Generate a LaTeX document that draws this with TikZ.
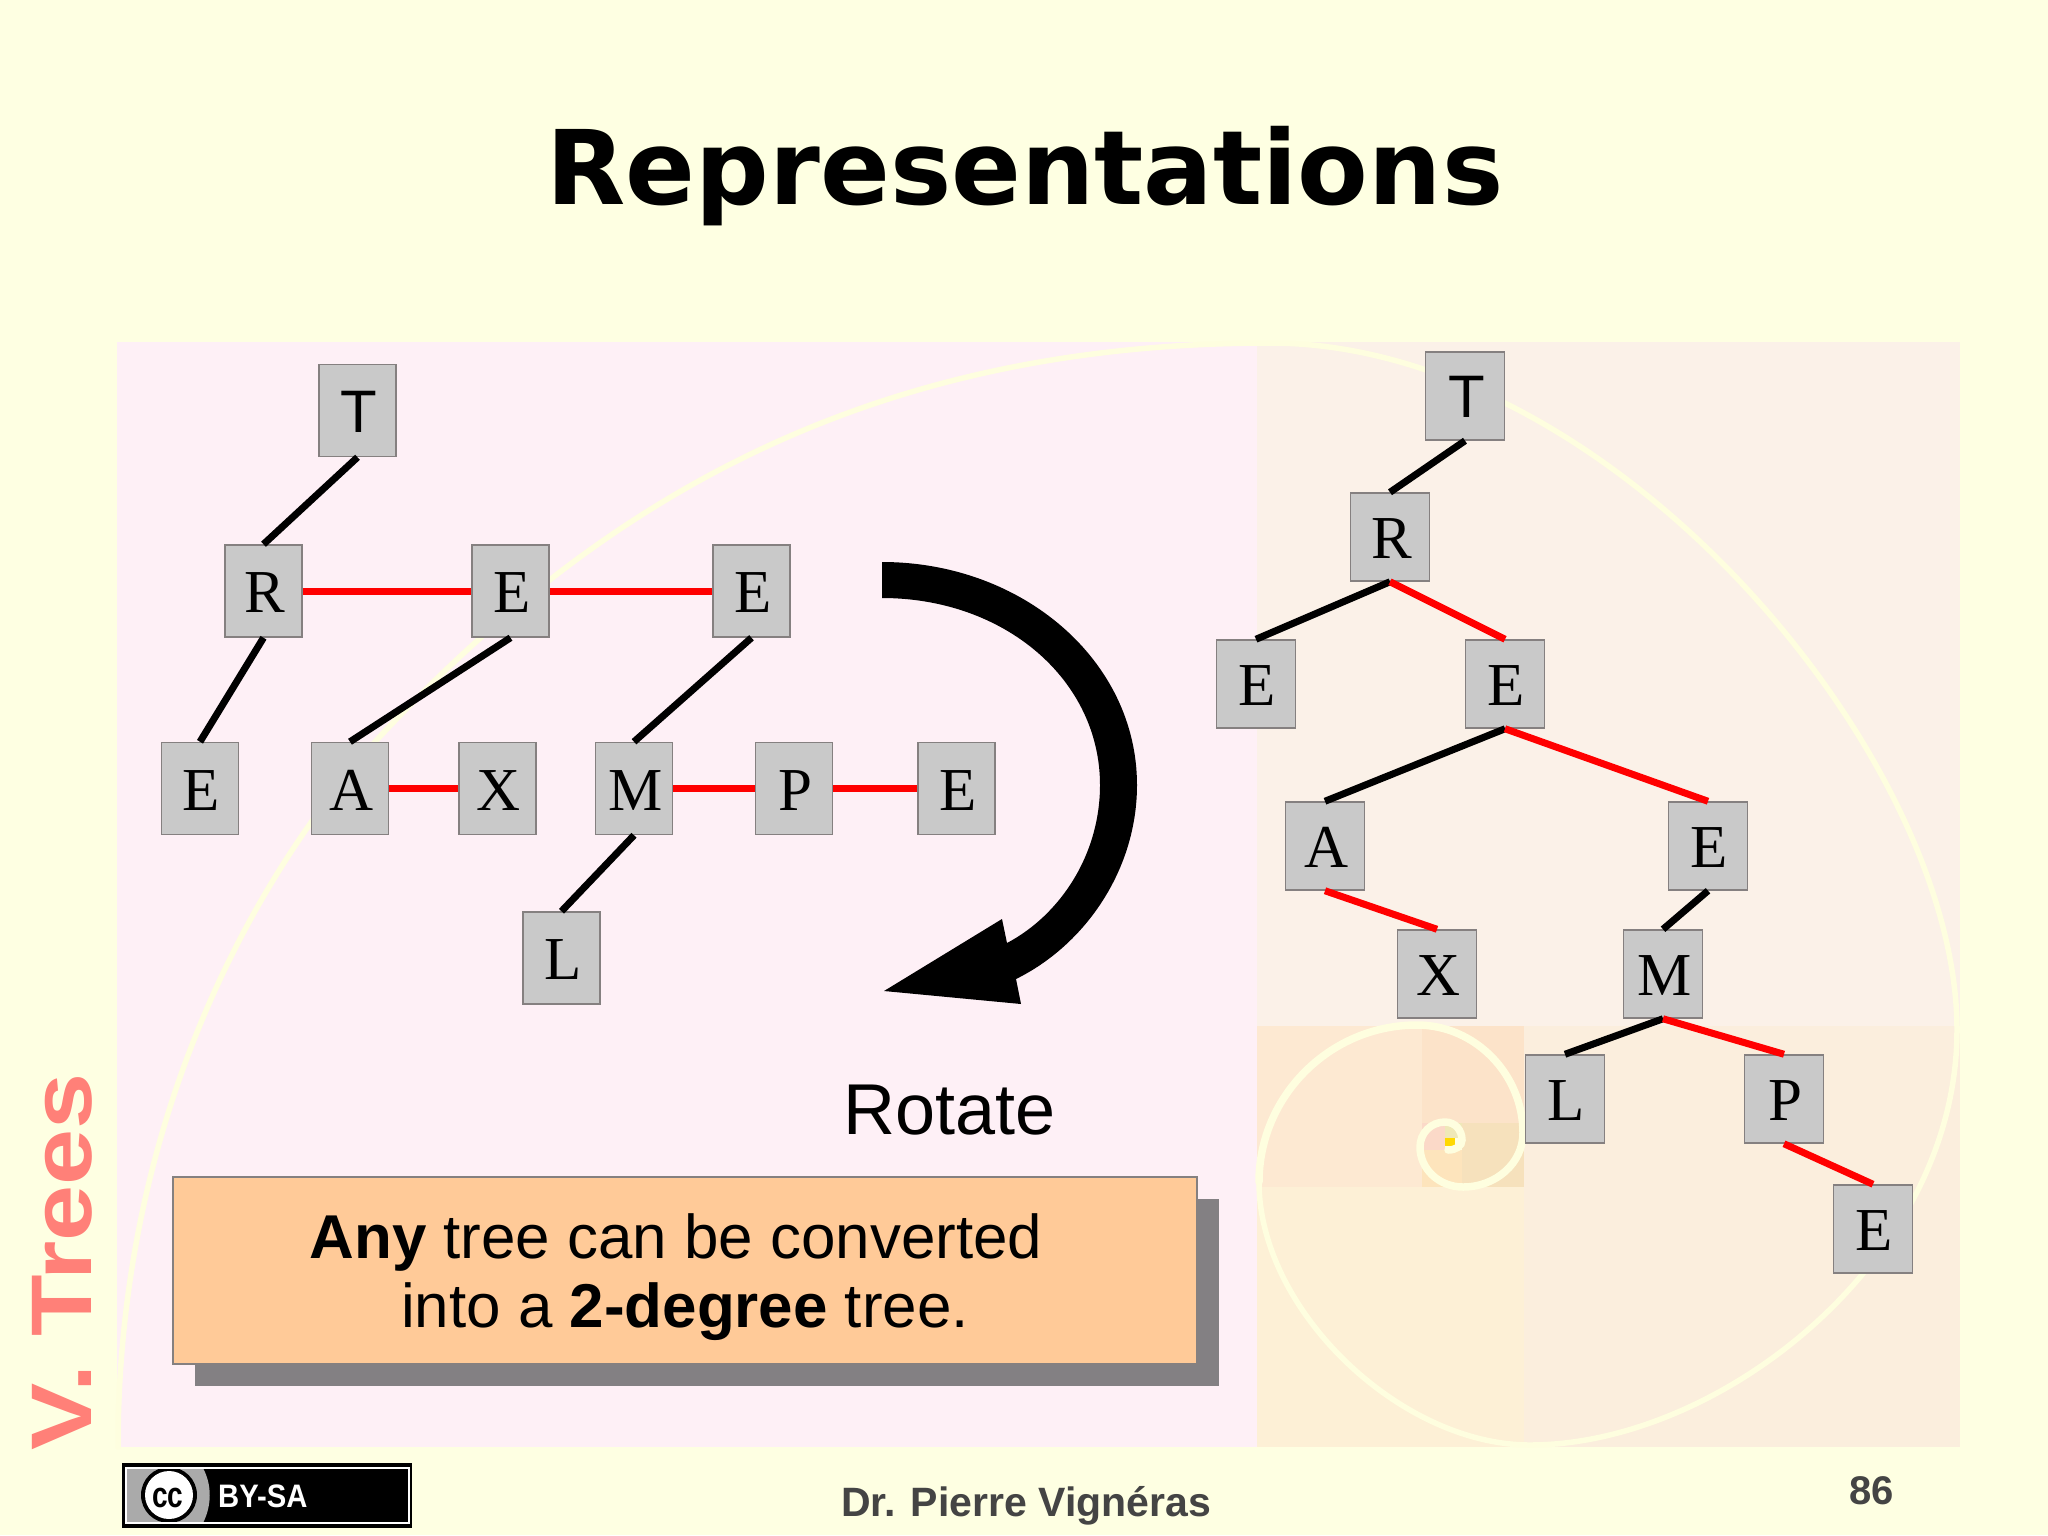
\documentclass[tikz,border=0pt]{standalone}
\usepackage{fontspec}
\setmainfont{Liberation Serif}
\newfontfamily\lib{Liberation Sans}
\newfontfamily\dvs{DejaVu Sans}
\definecolor{pagebg}{HTML}{FEFFE2}
\definecolor{pinkbg}{HTML}{FEF0F6}
\definecolor{rightbg}{HTML}{FBF1E8}
\definecolor{spiralc}{HTML}{FEFEDF}
\definecolor{boxfill}{HTML}{C9C9C9}
\definecolor{boxline}{HTML}{858080}
\definecolor{orangebox}{HTML}{FFCA98}
\definecolor{shadowc}{HTML}{838083}
\definecolor{sidec}{HTML}{FF8078}
\definecolor{footc}{HTML}{444444}
\definecolor{gA}{HTML}{FBEEDD}
\definecolor{gB}{HTML}{FDF0D6}
\definecolor{gC}{HTML}{FDE9D2}
\definecolor{gD}{HTML}{FCE3C9}
\definecolor{gE}{HTML}{F6E1BC}
\definecolor{gF}{HTML}{FDE4BC}
\definecolor{gG}{HTML}{FBD9C8}
\definecolor{gH}{HTML}{EFE8B8}
\definecolor{gI}{HTML}{FFD800}
\definecolor{ccgrey}{HTML}{AAAAAA}
\tikzset{
  lt/.style={draw=boxline,fill=boxfill,line width=1.5pt,minimum width=77pt,minimum height=92pt,inner sep=0pt,text height=43pt,execute at begin node=\hspace*{3pt},font=\fontsize{61}{61}\selectfont},
  rt/.style={lt,minimum width=79pt,minimum height=88pt},
  blk/.style={draw=black,line width=7pt},
  rd/.style={draw=red,line width=7pt},
}
\begin{document}
\begin{tikzpicture}[x=1pt,y=-1pt]
\useasboundingbox (0,0) rectangle (2048,1535);
\fill[pagebg] (0,0) rectangle (2048,1535);
% golden rectangles
\fill[pinkbg] (117,342) rectangle (1257,1447);
\fill[rightbg] (1257,342) rectangle (1960,1026);
\fill[gA] (1524,1026) rectangle (1960,1447);
\fill[gB] (1257,1187) rectangle (1524,1447);
\fill[gC] (1257,1026) rectangle (1422,1187);
\fill[gD] (1422,1026) rectangle (1524,1123);
\fill[gE] (1462,1123) rectangle (1524,1187);
\fill[gF] (1422,1150) rectangle (1462,1187);
\fill[gG] (1422,1123) rectangle (1445,1150);
\fill[gH] (1445,1123) rectangle (1462,1138);
\fill[gI] (1445,1138) rectangle (1455,1146);
% spiral
\draw[spiralc,line width=5.5pt,line cap=round] (118,1447)
  .. controls (118,1100) and (270,854) .. (386,730)
  .. controls (590,515) and (850,343) .. (1270,343)
  .. controls (1612,343) and (1957,755) .. (1957,1030)
  .. controls (1957,1260) and (1720,1445) .. (1530,1445)
  .. controls (1400,1445) and (1259,1310) .. (1259,1182);
\draw[spiralc,line width=7.5pt,line cap=round] (1259,1182)
  .. controls (1259,1096) and (1330,1025) .. (1417,1025)
  .. controls (1475,1025) and (1523,1074) .. (1523,1133)
  .. controls (1523,1163) and (1496,1187) .. (1463,1187)
  .. controls (1439,1187) and (1420,1169) .. (1420,1147)
  .. controls (1420,1133) and (1431,1122) .. (1445,1122)
  .. controls (1455,1122) and (1462,1130) .. (1462,1140)
  .. controls (1462,1146) and (1456,1150) .. (1448,1150);
% title
\node[font=\dvs\bfseries\fontsize{103}{110}\selectfont,text=black,inner sep=0pt] (title) at (1025,176) {Representations};
% left tree
\node[lt,font=\lib\fontsize{60}{60}\selectfont] (lT) at (357.5,410.5) {T};
\node[lt] (lR) at (263.5,591) {R};
\node[lt] (lE1) at (510.5,591) {E};
\node[lt] (lE2) at (751.5,591) {E};
\node[lt] (lE3) at (200,788.5) {E};
\node[lt] (lA) at (350,788.5) {A};
\node[lt] (lX) at (497.5,788.5) {X};
\node[lt] (lM) at (634,788.5) {M};
\node[lt] (lP) at (794,788.5) {P};
\node[lt] (lE4) at (956.5,788.5) {E};
\node[lt] (lL) at (561.5,958) {L};
\draw[blk] (lT.south) -- (lR.north);
\draw[blk] (lR.south) -- (lE3.north);
\draw[blk] (lE1.south) -- (lA.north);
\draw[blk] (lE2.south) -- (lM.north);
\draw[blk] (lM.south) -- (lL.north);
\draw[rd] (lR.east) -- (lE1.west);
\draw[rd] (lE1.east) -- (lE2.west);
\draw[rd] (lA.east) -- (lX.west);
\draw[rd] (lM.east) -- (lP.west);
\draw[rd] (lP.east) -- (lE4.west);
% right tree
\node[rt,font=\lib\fontsize{60}{60}\selectfont] (rT) at (1465,396) {T};
\node[rt] (rR) at (1390,537) {R};
\node[rt] (rE1) at (1256,684) {E};
\node[rt] (rE2) at (1505,684) {E};
\node[rt] (rA) at (1325,846) {A};
\node[rt] (rE3) at (1708,846) {E};
\node[rt] (rX) at (1437,974) {X};
\node[rt] (rM) at (1663,974) {M};
\node[rt] (rL) at (1565,1099) {L};
\node[rt] (rP) at (1784,1099) {P};
\node[rt] (rE4) at (1873,1229) {E};
\draw[blk] (rT.south) -- (rR.north);
\draw[blk] (rR.south) -- (rE1.north);
\draw[rd] (rR.south) -- (rE2.north);
\draw[blk] (rE2.south) -- (rA.north);
\draw[rd] (rE2.south) -- (rE3.north);
\draw[rd] (rA.south) -- (rX.north);
\draw[blk] (rE3.south) -- (rM.north);
\draw[blk] (rM.south) -- (rL.north);
\draw[rd] (rM.south) -- (rP.north);
\draw[rd] (rP.south) -- (rE4.north);
% curved arrow
\fill[black] (882,562)
  .. controls (1022,562) and (1137,660) .. (1137,785)
  .. controls (1137,870) and (1085,945) .. (1016,979)
  -- (1021,1004) -- (884,991) -- (1002,919) -- (1007,943)
  .. controls (1060,915) and (1100,855) .. (1100,785)
  .. controls (1100,680) and (1005,598) .. (882,598) -- cycle;
\node[font=\lib\fontsize{72}{72}\selectfont,inner sep=0pt] (rot) at (949.5,1110) {Rotate};
% message box
\fill[shadowc] (195,1199) rectangle (1219,1386);
\draw[draw=boxline,fill=orangebox,line width=1.2pt] (173,1177) rectangle (1197,1364);
\node[font=\lib\fontsize{61.9}{69}\selectfont,align=center,inner sep=0pt] (msg) at (676,1277) {\textbf{Any} tree can be converted\\\hspace*{18pt}into a \textbf{2-degree} tree.};
% side label
\node[font=\lib\bfseries\fontsize{86}{86}\selectfont,text=sidec,rotate=90,anchor=base west,inner sep=0pt] (side) at (91,1451) {\scalebox{1.172}[1]{V. Trees}};
% footer
\node[font=\lib\bfseries\fontsize{41}{41}\selectfont,text=footc,anchor=base,inner sep=0pt] (auth) at (1026,1516) {Dr. Pierre Vignéras};
\node[font=\lib\bfseries\fontsize{40}{40}\selectfont,text=footc,anchor=base,inner sep=0pt] (page) at (1871.5,1504) {86};
% badge
\fill[black] (122,1463) rectangle (412,1528);
\begin{scope}
\clip (126,1468) rectangle (409,1523);
\fill[ccgrey] (126,1468) -- (203,1468) .. controls (212,1485) and (212,1505) .. (203,1523) -- (126,1523) -- cycle;
\fill[black] (169,1495) circle (28);
\fill[white] (169,1495) circle (24);
\end{scope}
\draw[white,line width=2.5pt] (126,1468) rectangle (409,1523);
\node[font=\lib\bfseries\fontsize{36}{36}\selectfont,text=black,anchor=base,inner sep=0pt] (cc) at (168,1507) {\scalebox{.78}[1]{cc}};
\node[font=\lib\bfseries\fontsize{32.5}{33}\selectfont,text=white,anchor=base west,inner sep=0pt] (by) at (218,1507) {\scalebox{.9}[1]{BY-SA}};
\end{tikzpicture}
\end{document}
